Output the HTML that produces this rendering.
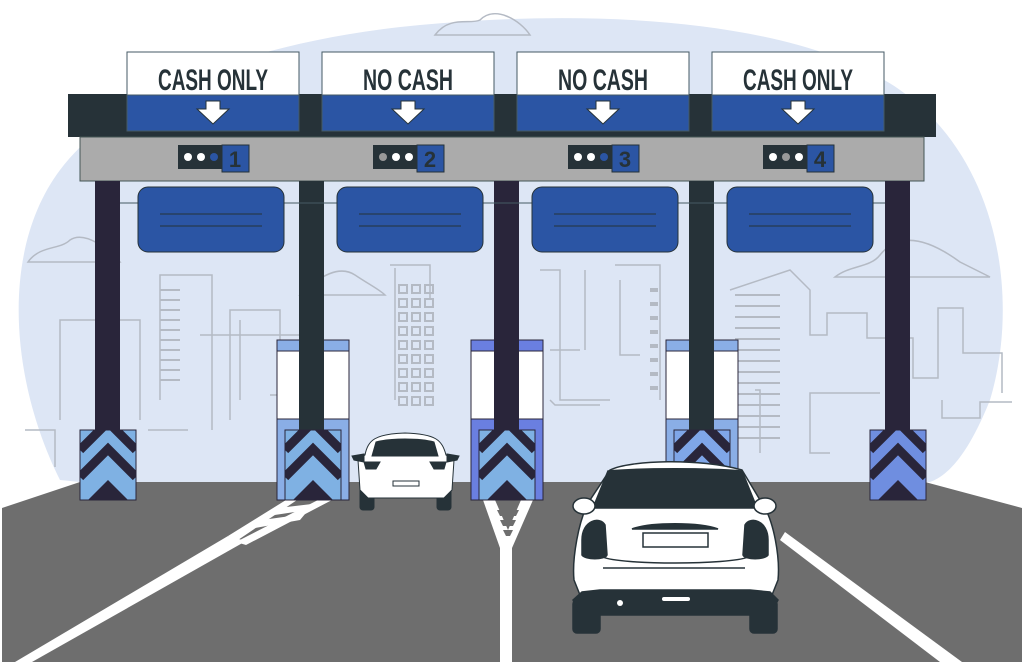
<!DOCTYPE html>
<html><head><style>html,body{margin:0;padding:0;background:#fff}svg{display:block}</style></head><body>
<svg width="1024" height="665" viewBox="0 0 1024 665" xmlns="http://www.w3.org/2000/svg" font-family="Liberation Sans, sans-serif">
<defs>
<g id="chev">
<rect x="0" y="0" width="56" height="70" fill="currentColor"/>
<path d="M0,20 L28,-8 L56,20 M0,47 L28,19 L56,47" stroke="#29253a" stroke-width="9" fill="none"/>
<path d="M8,70 L28,50 L48,70 Z" fill="#29253a"/>
</g>
</defs>
<path d="M60,480 C10,380 0,250 60,170 C120,90 260,40 420,25 C600,8 800,20 900,90 C1000,160 1020,300 990,400 C970,450 950,475 930,482 L80,482 Z" fill="#dde6f5"/>
<g stroke="#b4bac4" stroke-width="1.5" fill="none">
<path d="M435,35 C450,15 470,25 480,20 C495,5 520,20 530,35 Z"/>
<path d="M28,262 C40,245 60,250 70,240 C85,230 110,250 120,262 Z"/>
<path d="M300,295 C320,275 340,265 355,275 C370,285 380,290 385,295 Z"/>
<path d="M835,277 C850,265 870,268 880,255 C900,230 930,240 960,262 L990,277 Z"/>
<path d="M25,430 L55,430 L55,467 M148,430 L188,430"/>
<path d="M60,420 L60,320 L140,320 L140,420 M160,400 L160,275 L212,275 L212,430 M230,420 L230,310 L280,310 L280,400 M240,320 L240,400"/>
<path d="M200,335 L300,335 L300,395 L270,395 M330,375 L330,395"/>
<path d="M390,265 L430,265 L430,300 M395,268 L395,400"/>
<path d="M540,270 L560,270 L560,400 L610,400 M585,270 L585,350 M615,265 L660,265 L660,400 M620,280 L620,355 L640,355"/>
<path d="M550,400 L555,405 L600,405 M580,350 L550,350"/>
<path d="M730,290 L790,270 L810,290 L810,335 L827,335 L827,313 L867,313 L867,338 L913,338 L913,378 L938,378 L938,308 L963,308 L963,353 L1002,353 L1002,393 M755,390 L760,390 L760,453 M830,453 L810,453 L810,393 L880,393 M942,400 L942,418 L980,418 L980,402 L1012,402"/>
</g>
<g fill="none" stroke="#b4bac4" stroke-width="2">
<path d="M399,285h8v8h-8zM412,285h8v8h-8zM425,285h8v8h-8zM399,299h8v8h-8zM412,299h8v8h-8zM425,299h8v8h-8zM399,313h8v8h-8zM412,313h8v8h-8zM425,313h8v8h-8zM399,327h8v8h-8zM412,327h8v8h-8zM425,327h8v8h-8zM399,341h8v8h-8zM412,341h8v8h-8zM425,341h8v8h-8zM399,355h8v8h-8zM412,355h8v8h-8zM425,355h8v8h-8zM399,369h8v8h-8zM412,369h8v8h-8zM425,369h8v8h-8zM399,383h8v8h-8zM412,383h8v8h-8zM425,383h8v8h-8zM399,397h8v8h-8zM412,397h8v8h-8zM425,397h8v8h-8z"/>
<path d="M650,290h8M650,304h8M650,318h8M650,332h8M650,346h8M650,360h8M650,374h8M650,388h8" stroke-width="4"/>
<path d="M735,295h45M735,306h45M735,317h45M735,328h45M735,339h45M735,350h45M735,361h45M735,372h45M735,383h45M735,394h45M735,405h45M735,416h45M735,427h45M735,438h45"/>
<path d="M160,290h20M160,300h20M160,310h20M160,320h20M160,330h20M160,340h20M160,350h20M160,360h20M160,370h20M160,380h20"/>
</g>
<path d="M2,508 L80,482 L925,482 L1022,508 L1022,662 L2,662 Z" fill="#6e6e6e"/>
<g fill="#fff">
<path d="M15,662 L32,662 L246,541 L228,536 Z"/>
<path d="M228,536 L286,500 L297,500 L238,540 Z"/>
<path d="M236,542 L318,500 L332,500 L246,545 Z"/>
<path d="M255,528 L300,520 L305,514 L262,520 Z M268,516 L308,510 L312,504 L278,508 Z"/>
<path d="M483,500 L495,500 L508,530 L521,500 L533,500 L512,548 L512,662 L500,662 L500,548 Z"/>
<path d="M780,540 L940,662 L962,662 L785,532 Z"/>
</g>
<g fill="#6e6e6e"><path d="M497,510h22l-3,6h-16zM500,520h16l-3,6h-10zM503,530h10l-3,6h-4z"/></g>
<rect x="68" y="94" width="868" height="43" fill="#263238"/>
<rect x="80" y="137" width="844" height="44" fill="#ababab" stroke="#455" stroke-width="1"/>
<rect x="95" y="181" width="25" height="255" fill="#29253a"/>
<rect x="885" y="181" width="25" height="255" fill="#29253a"/>
<rect x="277" y="340" width="72" height="160" fill="#8aaee6" stroke="#29253a"/>
<rect x="277" y="351" width="72" height="68" fill="#fff" stroke="#29253a"/>
<rect x="471" y="340" width="72" height="160" fill="#6a7fe0" stroke="#29253a"/>
<rect x="471" y="351" width="72" height="68" fill="#fff" stroke="#29253a"/>
<rect x="666" y="340" width="72" height="160" fill="#8aaee6" stroke="#29253a"/>
<rect x="666" y="351" width="72" height="68" fill="#fff" stroke="#29253a"/>
<rect x="299" y="181" width="25" height="255" fill="#263238"/>
<rect x="494" y="181" width="25" height="255" fill="#29253a"/>
<rect x="689" y="181" width="25" height="255" fill="#263238"/>
<g color="#7fb1e3"><svg x="80" y="430" width="56" height="70"><use href="#chev"/></svg><rect x="80" y="430" width="56" height="70" fill="none" stroke="#29253a"/></g>
<g color="#7fb1e3"><svg x="285" y="430" width="56" height="70"><use href="#chev"/></svg><rect x="285" y="430" width="56" height="70" fill="none" stroke="#29253a"/></g>
<g color="#7fb1e3"><svg x="479" y="430" width="56" height="70"><use href="#chev"/></svg><rect x="479" y="430" width="56" height="70" fill="none" stroke="#29253a"/></g>
<g color="#7fa6e8"><svg x="674" y="430" width="56" height="70"><use href="#chev"/></svg><rect x="674" y="430" width="56" height="70" fill="none" stroke="#29253a"/></g>
<g color="#6f8ee0"><svg x="870" y="430" width="56" height="70"><use href="#chev"/></svg><rect x="870" y="430" width="56" height="70" fill="none" stroke="#29253a"/></g>
<g stroke="#455a64" stroke-width="1">
<rect x="127" y="52" width="172" height="43" fill="#fff"/><rect x="127" y="95" width="172" height="36" fill="#2b55a4"/>
<rect x="322" y="52" width="172" height="43" fill="#fff"/><rect x="322" y="95" width="172" height="36" fill="#2b55a4"/>
<rect x="517" y="52" width="172" height="43" fill="#fff"/><rect x="517" y="95" width="172" height="36" fill="#2b55a4"/>
<rect x="712" y="52" width="172" height="43" fill="#fff"/><rect x="712" y="95" width="172" height="36" fill="#2b55a4"/>
</g>
<g font-size="30" fill="#263238" text-anchor="middle" font-family="Liberation Sans Narrow, Liberation Sans, sans-serif" font-weight="bold">
<text x="213" y="90" textLength="110" lengthAdjust="spacingAndGlyphs">CASH ONLY</text>
<text x="408" y="90" textLength="90" lengthAdjust="spacingAndGlyphs">NO CASH</text>
<text x="603" y="90" textLength="90" lengthAdjust="spacingAndGlyphs">NO CASH</text>
<text x="798" y="90" textLength="110" lengthAdjust="spacingAndGlyphs">CASH ONLY</text>
</g>
<g fill="#fff" stroke="#263238" stroke-width="1">
<path d="M206,101h14v8h9l-16,15l-16,-15h9z"/>
<path d="M401,101h14v8h9l-16,15l-16,-15h9z"/>
<path d="M596,101h14v8h9l-16,15l-16,-15h9z"/>
<path d="M791,101h14v8h9l-16,15l-16,-15h9z"/>
</g>
<g>
<rect x="178" y="145" width="44" height="24" fill="#263238"/><rect x="222" y="145" width="27" height="27" fill="#2b55a4" stroke="#263238"/>
<circle cx="188" cy="157" r="4" fill="#fff"/><circle cx="201" cy="157" r="4" fill="#fff"/><circle cx="214" cy="157" r="4" fill="#2b55a4"/>
<rect x="373" y="145" width="44" height="24" fill="#263238"/><rect x="417" y="145" width="27" height="27" fill="#2b55a4" stroke="#263238"/>
<circle cx="383" cy="157" r="4" fill="#999"/><circle cx="396" cy="157" r="4" fill="#fff"/><circle cx="409" cy="157" r="4" fill="#fff"/>
<rect x="568" y="145" width="44" height="24" fill="#263238"/><rect x="612" y="145" width="27" height="27" fill="#2b55a4" stroke="#263238"/>
<circle cx="578" cy="157" r="4" fill="#fff"/><circle cx="591" cy="157" r="4" fill="#fff"/><circle cx="604" cy="157" r="4" fill="#2b55a4"/>
<rect x="763" y="145" width="44" height="24" fill="#263238"/><rect x="807" y="145" width="27" height="27" fill="#2b55a4" stroke="#263238"/>
<circle cx="773" cy="157" r="4" fill="#fff"/><circle cx="786" cy="157" r="4" fill="#999"/><circle cx="799" cy="157" r="4" fill="#fff"/>
</g>
<g font-size="22" font-weight="bold" fill="#263238" text-anchor="middle" font-family="Liberation Sans Narrow, Liberation Sans, sans-serif">
<text x="235" y="167">1</text><text x="430" y="167">2</text><text x="625" y="167">3</text><text x="820" y="167">4</text>
</g>
<g stroke="#263238" stroke-width="1">
<line x1="120" y1="203" x2="885" y2="203" stroke="#455a64"/>
<rect x="138" y="187" width="146" height="65" rx="10" fill="#2b55a4"/>
<rect x="337" y="187" width="146" height="65" rx="10" fill="#2b55a4"/>
<rect x="532" y="187" width="146" height="65" rx="10" fill="#2b55a4"/>
<rect x="727" y="187" width="146" height="65" rx="10" fill="#2b55a4"/>
<path d="M160,214h102M160,226h102M359,214h102M359,226h102M554,214h102M554,226h102M749,214h102M749,226h102"/>
</g>
<g stroke="#263238" stroke-width="1">
<rect x="360" y="486" width="14" height="24" rx="3" fill="#263238"/><rect x="437" y="486" width="14" height="24" rx="3" fill="#263238"/>
<path d="M365,455 C368,440 375,434 405,433 C436,434 442,440 446,455 L454,460 L452,490 L444,498 L368,498 L360,490 L358,460 Z" fill="#fff"/>
<path d="M372,456 L376,442 C390,438 420,438 434,442 L438,456 Z" fill="#263238"/>
<path d="M352,456 l12,-2 v8 l-10,-2z M459,456 l-12,-2 v8 l10,-2z" fill="#263238"/>
<path d="M364,462 l16,0 -4,7 -10,0z M446,462 l-16,0 4,7 10,0z" fill="#263238"/>
<rect x="393" y="481" width="26" height="5" fill="#fff"/>
</g>
<g stroke="#263238" stroke-width="1.5">
<rect x="573" y="600" width="27" height="33" rx="4" fill="#263238"/><rect x="750" y="600" width="27" height="33" rx="4" fill="#263238"/>
<path d="M610,470 C630,460 700,458 742,470 L760,500 C775,520 780,560 778,580 L770,600 L740,608 L610,608 L582,600 L574,580 C572,560 578,520 590,500 Z" fill="#fff"/>
<path d="M573,600 L582,592 L600,590 L750,590 L770,592 L778,600 L770,615 L580,615 Z" fill="#263238"/>
<path d="M608,471 C640,468 710,468 742,471 L757,508 L593,508 Z" fill="#263238"/>
<ellipse cx="584" cy="506" rx="11" ry="8" fill="#fff"/><ellipse cx="765" cy="506" rx="11" ry="8" fill="#fff"/>
<path d="M582,540 C582,520 600,516 605,525 L607,555 C605,560 585,560 582,555 Z" fill="#263238"/>
<path d="M768,540 C768,520 750,516 745,525 L743,555 C745,560 765,560 768,555 Z" fill="#263238"/>
<path d="M632,529 C650,522 700,522 718,529 Z" fill="#263238"/>
<rect x="643" y="533" width="65" height="14" fill="#fff"/>
<path d="M603,557 C620,565 730,565 748,557 M603,568 L745,568" fill="none"/>
<circle cx="620" cy="603" r="3" fill="#fff" stroke="none"/>
<rect x="662" y="597" width="28" height="4" rx="2" fill="#fff" stroke="none"/>
</g>
</svg>
</body></html>
